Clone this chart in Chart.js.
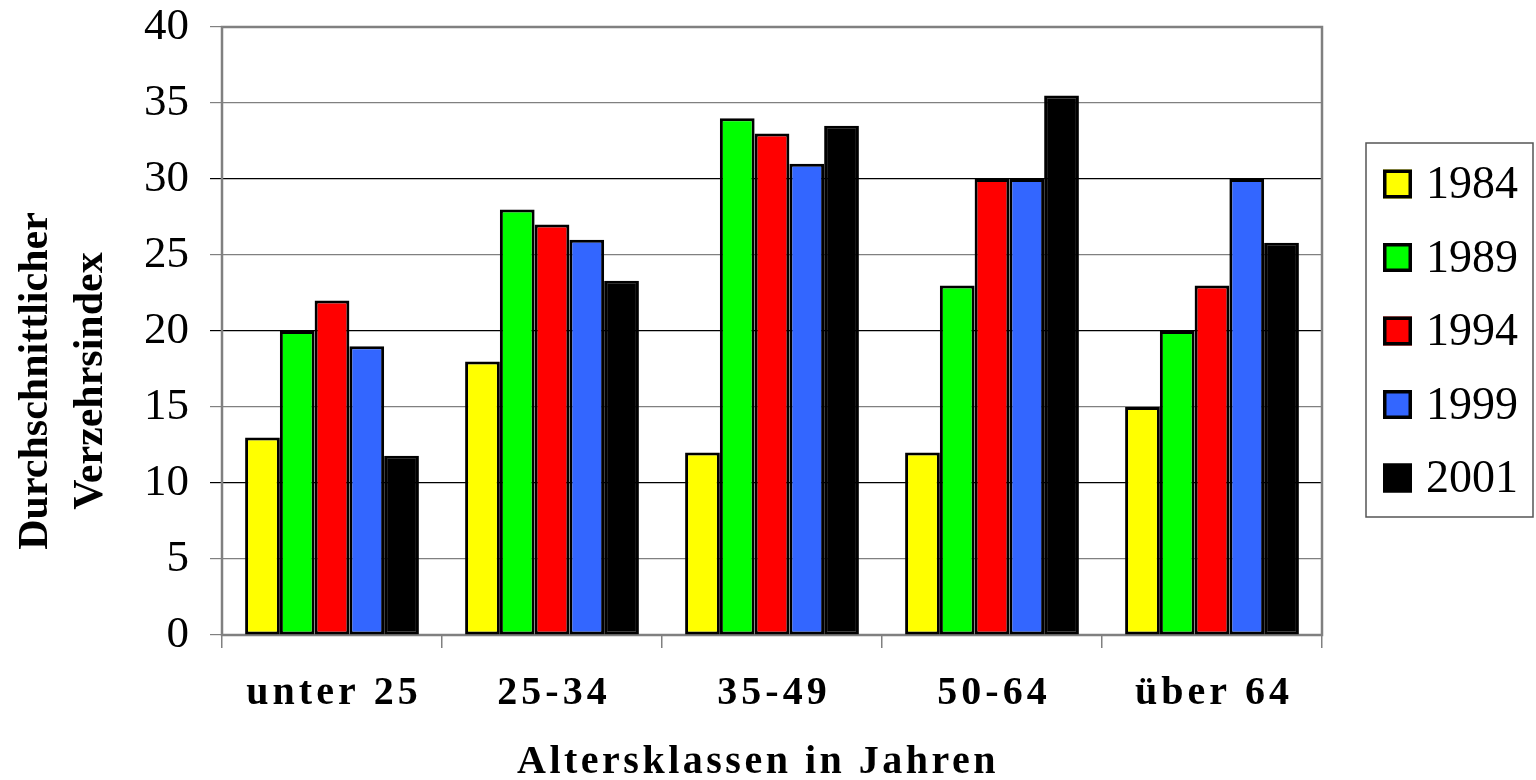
<!DOCTYPE html>
<html lang="de">
<head>
<meta charset="utf-8">
<title>Durchschnittlicher Verzehrsindex nach Altersklassen</title>
<script src="https://cdn.jsdelivr.net/npm/chart.js@4/dist/chart.umd.min.js"></script>
<style>
  html, body { margin: 0; padding: 0; background: #ffffff; }
  #wrap { width: 1536px; height: 780px; }
</style>
</head>
<body>
<div id="wrap"><canvas id="chart" width="1536" height="780"></canvas></div>
<script>
// Age groups on the x axis
const ageGroups = ['unter 25', '25-34', '35-49', '50-64', 'über 64'];

// Survey years shown in the legend
const years = ['1984', '1989', '1994', '1999', '2001'];

// Average consumption index per age group, one array per survey year
const values1984 = [13, 18, 12, 12, 15];
const values1989 = [20, 28, 34, 23, 20];
const values1994 = [22, 27, 33, 30, 23];
const values1999 = [19, 26, 31, 30, 30];
const values2001 = [11.8, 23.3, 33.5, 35.5, 25.8];

// Value axis range and step
const yMin = 0;
const yMax = 40;
const yStep = 5;

const xTitle = 'Altersklassen in Jahren';
const yTitle = ['Durchschnittlicher', 'Verzehrsindex'];

const seriesValues = [values1984, values1989, values1994, values1999, values2001];
const seriesColors = ['#FFFF00', '#00FF00', '#FF0000', '#3366FF', '#000000'];

const FONT = '"Liberation Serif", "Times New Roman", serif';

// Gray frame around the plot area, drawn under the bars
const framePlugin = {
  id: 'frame',
  beforeDatasetsDraw(chart) {
    const { ctx, chartArea: a } = chart;
    ctx.save();
    ctx.strokeStyle = '#808080';
    ctx.lineWidth = 2.5;
    ctx.strokeRect(a.left, a.top, a.right - a.left, a.bottom - a.top);
    ctx.restore();
  }
};

// Letter-spaced category labels, axis titles and the boxed legend
const textPlugin = {
  id: 'texts',
  afterDraw(chart) {
    const { ctx } = chart;
    const xs = chart.scales.x;
    ctx.save();
    ctx.fillStyle = '#000';

    // category labels
    ctx.font = 'bold 40px ' + FONT;
    ctx.letterSpacing = '4px';
    ctx.textAlign = 'center';
    ctx.textBaseline = 'alphabetic';
    chart.data.labels.forEach((lab, i) => {
      ctx.fillText(lab, xs.getPixelForValue(i) + 2, 704);
    });

    // x axis title
    ctx.font = 'bold 40px ' + FONT;
    ctx.letterSpacing = '3.5px';
    ctx.fillText(xTitle, 758, 773);

    // y axis title, rotated, two lines
    ctx.letterSpacing = '0px';
    ctx.font = 'bold 42px ' + FONT;
    ctx.save();
    ctx.translate(0, 381);
    ctx.rotate(-Math.PI / 2);
    ctx.textBaseline = 'alphabetic';
    ctx.fillText(yTitle[0], 0, 47);
    ctx.fillText(yTitle[1], 0, 102);
    ctx.restore();

    // legend box
    const lx = 1366, ly = 143, lw = 167, lh = 374;
    ctx.strokeStyle = '#555';
    ctx.lineWidth = 1.5;
    ctx.strokeRect(lx, ly, lw, lh);
    ctx.font = '46px ' + FONT;
    ctx.textAlign = 'left';
    ctx.textBaseline = 'alphabetic';
    chart.data.datasets.forEach((ds, i) => {
      const cy = 184 + i * 73.5;
      const s = 29;
      ctx.fillStyle = ds.backgroundColor;
      ctx.fillRect(1383, cy - s / 2, s, s);
      ctx.strokeStyle = '#000';
      ctx.lineWidth = 3.5;
      ctx.strokeRect(1383 + 1.75, cy - s / 2 + 1.75, s - 3.5, s - 3.5);
      ctx.fillStyle = '#000';
      ctx.fillText(ds.label, 1426, cy + 14);
    });
    ctx.restore();
  }
};

const datasets = years.map((yr, i) => ({
  label: yr,
  data: seriesValues[i],
  backgroundColor: seriesColors[i],
  borderColor: '#000000',
  borderWidth: 3,
  borderSkipped: false,
  categoryPercentage: 0.79,
  barPercentage: 1.0
}));

new Chart(document.getElementById('chart'), {
  type: 'bar',
  data: { labels: ageGroups, datasets },
  options: {
    responsive: false,
    devicePixelRatio: 1,
    animation: false,
    layout: { autoPadding: false, padding: { top: 27, right: 214, left: 0, bottom: 0 } },
    plugins: {
      legend: { display: false },
      tooltip: { enabled: false },
      title: { display: false }
    },
    scales: {
      x: {
        offset: true,
        border: { display: false },
        grid: {
          offset: true,
          drawOnChartArea: false,
          drawTicks: true,
          tickLength: 13,
          color: '#808080',
          lineWidth: 1.5
        },
        ticks: { display: false },
        afterFit(scale) { scale.height = 145; }
      },
      y: {
        min: yMin,
        max: yMax,
        border: { display: false },
        grid: {
          tickLength: 12,
          lineWidth: 1.2,
          color(ctx) {
            const v = ctx.tick ? ctx.tick.value : 0;
            return (v % 10 === 0 && v !== 0 && v !== 40) ? '#000000' : '#808080';
          }
        },
        ticks: {
          stepSize: yStep,
          padding: 21,
          color: '#000',
          font: { family: FONT, size: 45 }
        },
        afterFit(scale) {
          scale.width = 222;
          scale.paddingTop = 0;
          scale.paddingBottom = 0;
        }
      }
    }
  },
  plugins: [framePlugin, textPlugin]
});
</script>
</body>
</html>
